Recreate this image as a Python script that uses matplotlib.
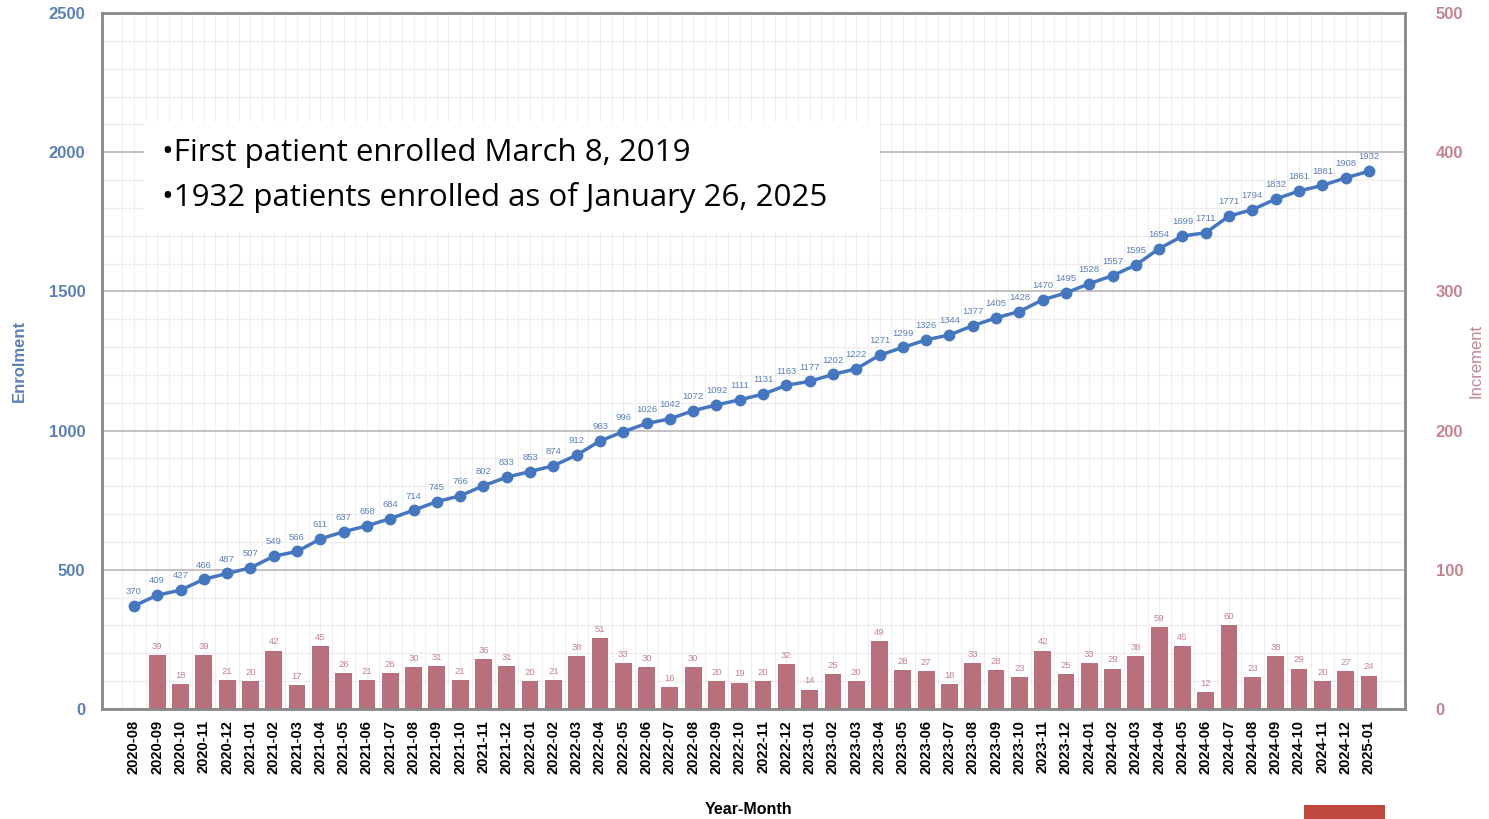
import numpy as np
import matplotlib
matplotlib.use("Agg")
import matplotlib.pyplot as plt
from matplotlib.patches import Rectangle

plt.rcParams['font.family'] = ['Liberation Sans', 'DejaVu Sans']

# data
months = ['2020-08', '2020-09', '2020-10', '2020-11', '2020-12',
          '2021-01', '2021-02', '2021-03', '2021-04', '2021-05', '2021-06',
          '2021-07', '2021-08', '2021-09', '2021-10', '2021-11', '2021-12',
          '2022-01', '2022-02', '2022-03', '2022-04', '2022-05', '2022-06',
          '2022-07', '2022-08', '2022-09', '2022-10', '2022-11', '2022-12',
          '2023-01', '2023-02', '2023-03', '2023-04', '2023-05', '2023-06',
          '2023-07', '2023-08', '2023-09', '2023-10', '2023-11', '2023-12',
          '2024-01', '2024-02', '2024-03', '2024-04', '2024-05', '2024-06',
          '2024-07', '2024-08', '2024-09', '2024-10', '2024-11', '2024-12',
          '2025-01']
enrollment = [370, 409, 427, 466, 487, 507, 549, 566, 611, 637, 658, 684,
              714, 745, 766, 802, 833, 853, 874, 912, 963, 996, 1026, 1042,
              1072, 1092, 1111, 1131, 1163, 1177, 1202, 1222, 1271, 1299,
              1326, 1344, 1377, 1405, 1428, 1470, 1495, 1528, 1557, 1595,
              1654, 1699, 1711, 1771, 1794, 1832, 1861, 1881, 1908, 1932]
# no increment for the first month
increment = [None, 39, 18, 39, 21, 20, 42, 17, 45, 26, 21, 26, 30, 31, 21,
             36, 31, 20, 21, 38, 51, 33, 30, 16, 30, 20, 19, 20, 32, 14,
             25, 20, 49, 28, 27, 18, 33, 28, 23, 42, 25, 33, 29, 38, 59,
             45, 12, 60, 23, 38, 29, 20, 27, 24]
notes = ['\u2022First patient enrolled March 8, 2019',
         '\u20221932 patients enrolled as of January 26, 2025']

blue = '#4577c0'
blue_txt = '#5b80b8'
rose = '#b8707c'
rose_txt = '#c4848e'

x = np.arange(len(months))

fig = plt.figure(figsize=(14.89, 8.19), dpi=100)
ax2 = fig.add_axes([0.0685, 0.1343, 0.8751, 0.8497])
ax = ax2.twinx()
ax.yaxis.tick_left()
ax.yaxis.set_label_position('left')
ax2.yaxis.tick_right()
ax2.yaxis.set_label_position('right')
ax.set_zorder(ax2.get_zorder() + 1)
ax.patch.set_visible(False)

# bars (right axis)
bx = [i for i, v in enumerate(increment) if v is not None]
bv = [v for v in increment if v is not None]
ax2.bar(bx, bv, width=0.72, color=rose, zorder=3)
for i, v in zip(bx, bv):
    ax2.text(i, v + 3, str(v), ha='center', va='bottom', fontsize=6.8,
             color=rose_txt, zorder=4)
ax2.set_ylim(0, 500)
ax2.set_yticks(np.arange(0, 501, 100))
ax2.set_yticks(np.arange(0, 501, 20), minor=True)
ax2.set_xlim(-1.37, 54.55)
ax2.set_xticks(x)
ax2.set_xticks(np.arange(-0.5, 54, 1), minor=True)
ax2.set_xticklabels(months, rotation=90, fontsize=10.5, fontweight='bold')
ax2.grid(axis='y', which='major', color='#bdbdbd', lw=1.3, zorder=0)
ax2.grid(axis='y', which='minor', color='#ececec', lw=0.8, zorder=0)
ax2.grid(axis='x', which='both', color='#eeeeee', lw=0.8, zorder=0)
ax2.tick_params(axis='y', which='both', length=0, colors=rose_txt,
                labelsize=12, pad=22)
ax2.tick_params(axis='x', which='both', length=0, pad=8)
for lab in ax2.get_yticklabels():
    lab.set_fontweight('bold')
ax2.set_ylabel('Increment', color=rose_txt, fontsize=12)
ax2.yaxis.set_label_coords(1.049, 0.5)

# line (left axis)
ax.plot(x, enrollment, color=blue, lw=2.5, marker='o', markersize=7.5, zorder=5)
for i, v in zip(x, enrollment):
    ax.annotate(str(v), (i, v), xytext=(0, 7), textcoords='offset points',
                ha='center', va='bottom', fontsize=6.8, color=blue_txt)
ax.set_ylim(0, 2500)
ax.set_yticks(np.arange(0, 2501, 500))
ax.tick_params(axis='y', length=0, colors=blue_txt, labelsize=12, pad=12)
for lab in ax.get_yticklabels():
    lab.set_fontweight('bold')
ax.set_ylabel('Enrolment', color=blue_txt, fontsize=12, fontweight='bold')
ax.yaxis.set_label_coords(-0.058, 0.5)
ax2.set_xlabel('Year-Month', fontsize=11.5, fontweight='bold')
ax2.xaxis.set_label_coords(0.496, -0.133)

for a in (ax, ax2):
    for s in a.spines.values():
        s.set_color('#8a8a8a')
        s.set_linewidth(1.8)

# note box
fig.patches.append(Rectangle((0.097, 0.717), 0.494, 0.134,
                             transform=fig.transFigure, facecolor='white',
                             edgecolor='none', zorder=10))
fig.text(0.109, 0.813, notes[0], fontsize=22.5, family='Open Sans',
         va='center', zorder=11)
fig.text(0.109, 0.759, notes[1], fontsize=22.5, family='Open Sans',
         va='center', zorder=11)

# logo fragment, bottom right
fig.patches.append(Rectangle((0.876, 0.0), 0.054, 0.017,
                             transform=fig.transFigure, facecolor='#c0473e',
                             edgecolor='none', zorder=10))

fig.savefig('out.png', dpi=100)
